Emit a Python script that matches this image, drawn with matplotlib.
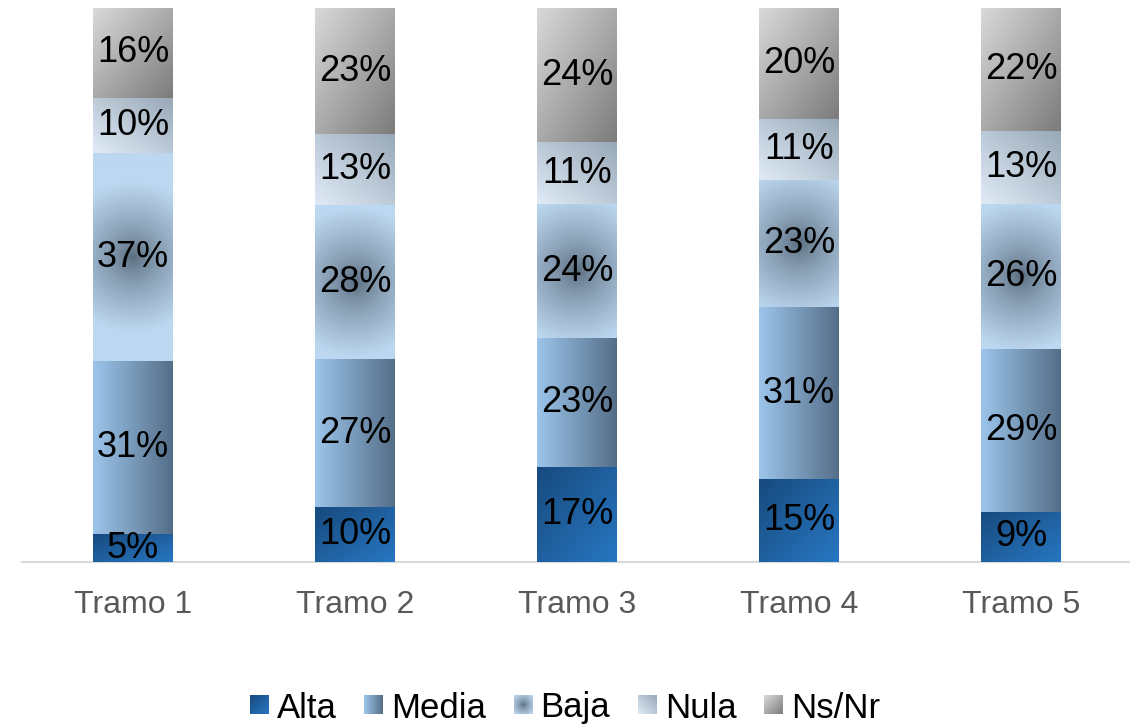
import numpy as np
import matplotlib
matplotlib.use('Agg')
import matplotlib.pyplot as plt
from matplotlib.colors import to_rgb
from matplotlib.legend_handler import HandlerBase
from matplotlib.image import BboxImage
from matplotlib.transforms import Bbox, TransformedBbox
from matplotlib.patches import Rectangle

# ---------------- data ----------------
categories = ['Tramo 1', 'Tramo 2', 'Tramo 3', 'Tramo 4', 'Tramo 5']
series_names = ['Alta', 'Media', 'Baja', 'Nula', 'Ns/Nr']
alta = [5, 10, 17, 15, 9]
media = [31, 27, 23, 31, 29]
baja = [37, 28, 24, 23, 26]
nula = [10, 13, 11, 11, 13]
nsnr = [16, 23, 24, 20, 22]

FONT = ['Liberation Sans', 'DejaVu Sans']
plt.rcParams['font.family'] = FONT

W, H = 1130, 724
fig = plt.figure(figsize=(W / 100, H / 100), dpi=100)
ax_left, ax_bottom, ax_w, ax_h = 22, 562, 1108, 554
ax = fig.add_axes([ax_left / W, 1 - ax_bottom / H, ax_w / W, ax_h / H])
xmin = -0.5
xmax = xmin + ax_w / 222.0
ax.set_xlim(xmin, xmax)
ax.set_ylim(0, 100)
px_x = ax_w / (xmax - xmin)
px_y = ax_h / 100.0


def grad(style, w_px, h_px, R=75.0):
    nx = max(int(round(w_px)), 2)
    ny = max(int(round(h_px)), 2)
    xs = (np.arange(nx) + 0.5)
    ys = (np.arange(ny) + 0.5)
    X, Y = np.meshgrid(xs, ys)  # row 0 = bottom (origin lower)
    u = X / nx
    v = Y / ny

    def lin(c0, c1, t):
        c0 = np.array(to_rgb(c0)); c1 = np.array(to_rgb(c1))
        t = np.clip(t, 0, 1)[..., None]
        return c0 + (c1 - c0) * t

    if style == 'Alta':
        return lin('#174a7e', '#2877c2', (u + 1 - v) / 2)
    if style == 'Media':
        return lin('#9dc5eb', '#546e88', u)
    if style == 'Baja':
        d = np.sqrt((X - nx / 2) ** 2 + (Y - ny / 2) ** 2)
        return lin('#56687a', '#bcd7f0', np.clip(d / R, 0, 1) ** 0.7)
    if style == 'Nula':
        return lin('#e0ebf7', '#98a8b7', (u + v) / 2)
    return lin('#dadada', '#7b7b7b', (u + 1 - v) / 2)


series_vals = [alta, media, baja, nula, nsnr]
totals = np.sum(np.array(series_vals, dtype=float), axis=0)
x = np.arange(len(categories))
bar_w = 0.36
bottom = np.zeros(len(categories))
for name, vals in zip(series_names, series_vals):
    vals = np.array(vals, dtype=float)
    share = vals / totals * 100
    bars = ax.bar(x, share, bar_w, bottom=bottom, color='none',
                  edgecolor='none', label=name)
    for patch, raw in zip(bars.patches, vals):
        x0, y0 = patch.get_x(), patch.get_y()
        w, h = patch.get_width(), patch.get_height()
        arr = grad(name, w * px_x, h * px_y)
        im = ax.imshow(arr, extent=(x0, x0 + w, y0, y0 + h), origin='lower',
                       aspect='auto', interpolation='bilinear', zorder=1)
        im.set_clip_path(patch)
        ax.text(x0 + w / 2, y0 + h / 2, f'{int(raw)}%', ha='center',
                va='center', fontsize=26, color='black', zorder=3)
    bottom += share

ax.set_xlim(xmin, xmax)
ax.set_ylim(0, 100)
ax.set_aspect('auto')

for s in ['top', 'right', 'left']:
    ax.spines[s].set_visible(False)
ax.spines['bottom'].set_color('#d9d9d9')
ax.spines['bottom'].set_linewidth(1.5)
ax.spines['bottom'].set_zorder(0.5)
ax.set_yticks([])
ax.set_xticks(x)
ax.set_xticklabels(categories)
ax.tick_params(axis='x', length=0, labelsize=23, labelcolor='#595959', pad=20.5)


class GradHandler(HandlerBase):
    def __init__(self, arr):
        super().__init__()
        self.arr = arr

    def create_artists(self, legend, orig_handle, xdescent, ydescent, width,
                       height, fontsize, trans):
        s = min(width, height)
        bb = Bbox.from_bounds(-xdescent + (width - s) / 2,
                              -ydescent + (height - s) / 2, s, s)
        im = BboxImage(TransformedBbox(bb, trans), interpolation='bilinear',
                       origin='lower')
        im.set_data(self.arr)
        return [im]


handles = [Rectangle((0, 0), 1, 1) for _ in series_names]
hmap = {h: GradHandler(grad(n, 18, 18, R=12)) for h, n in zip(handles, series_names)}
fig.legend(handles, series_names, handler_map=hmap, loc='center',
           bbox_to_anchor=(0.5, 1 - 708 / H), ncol=5, frameon=False,
           fontsize=25, handlelength=0.52, handleheight=0.52,
           handletextpad=0.25, columnspacing=0.8, borderpad=0,
           labelcolor='black')

fig.savefig('out.png', dpi=100)
